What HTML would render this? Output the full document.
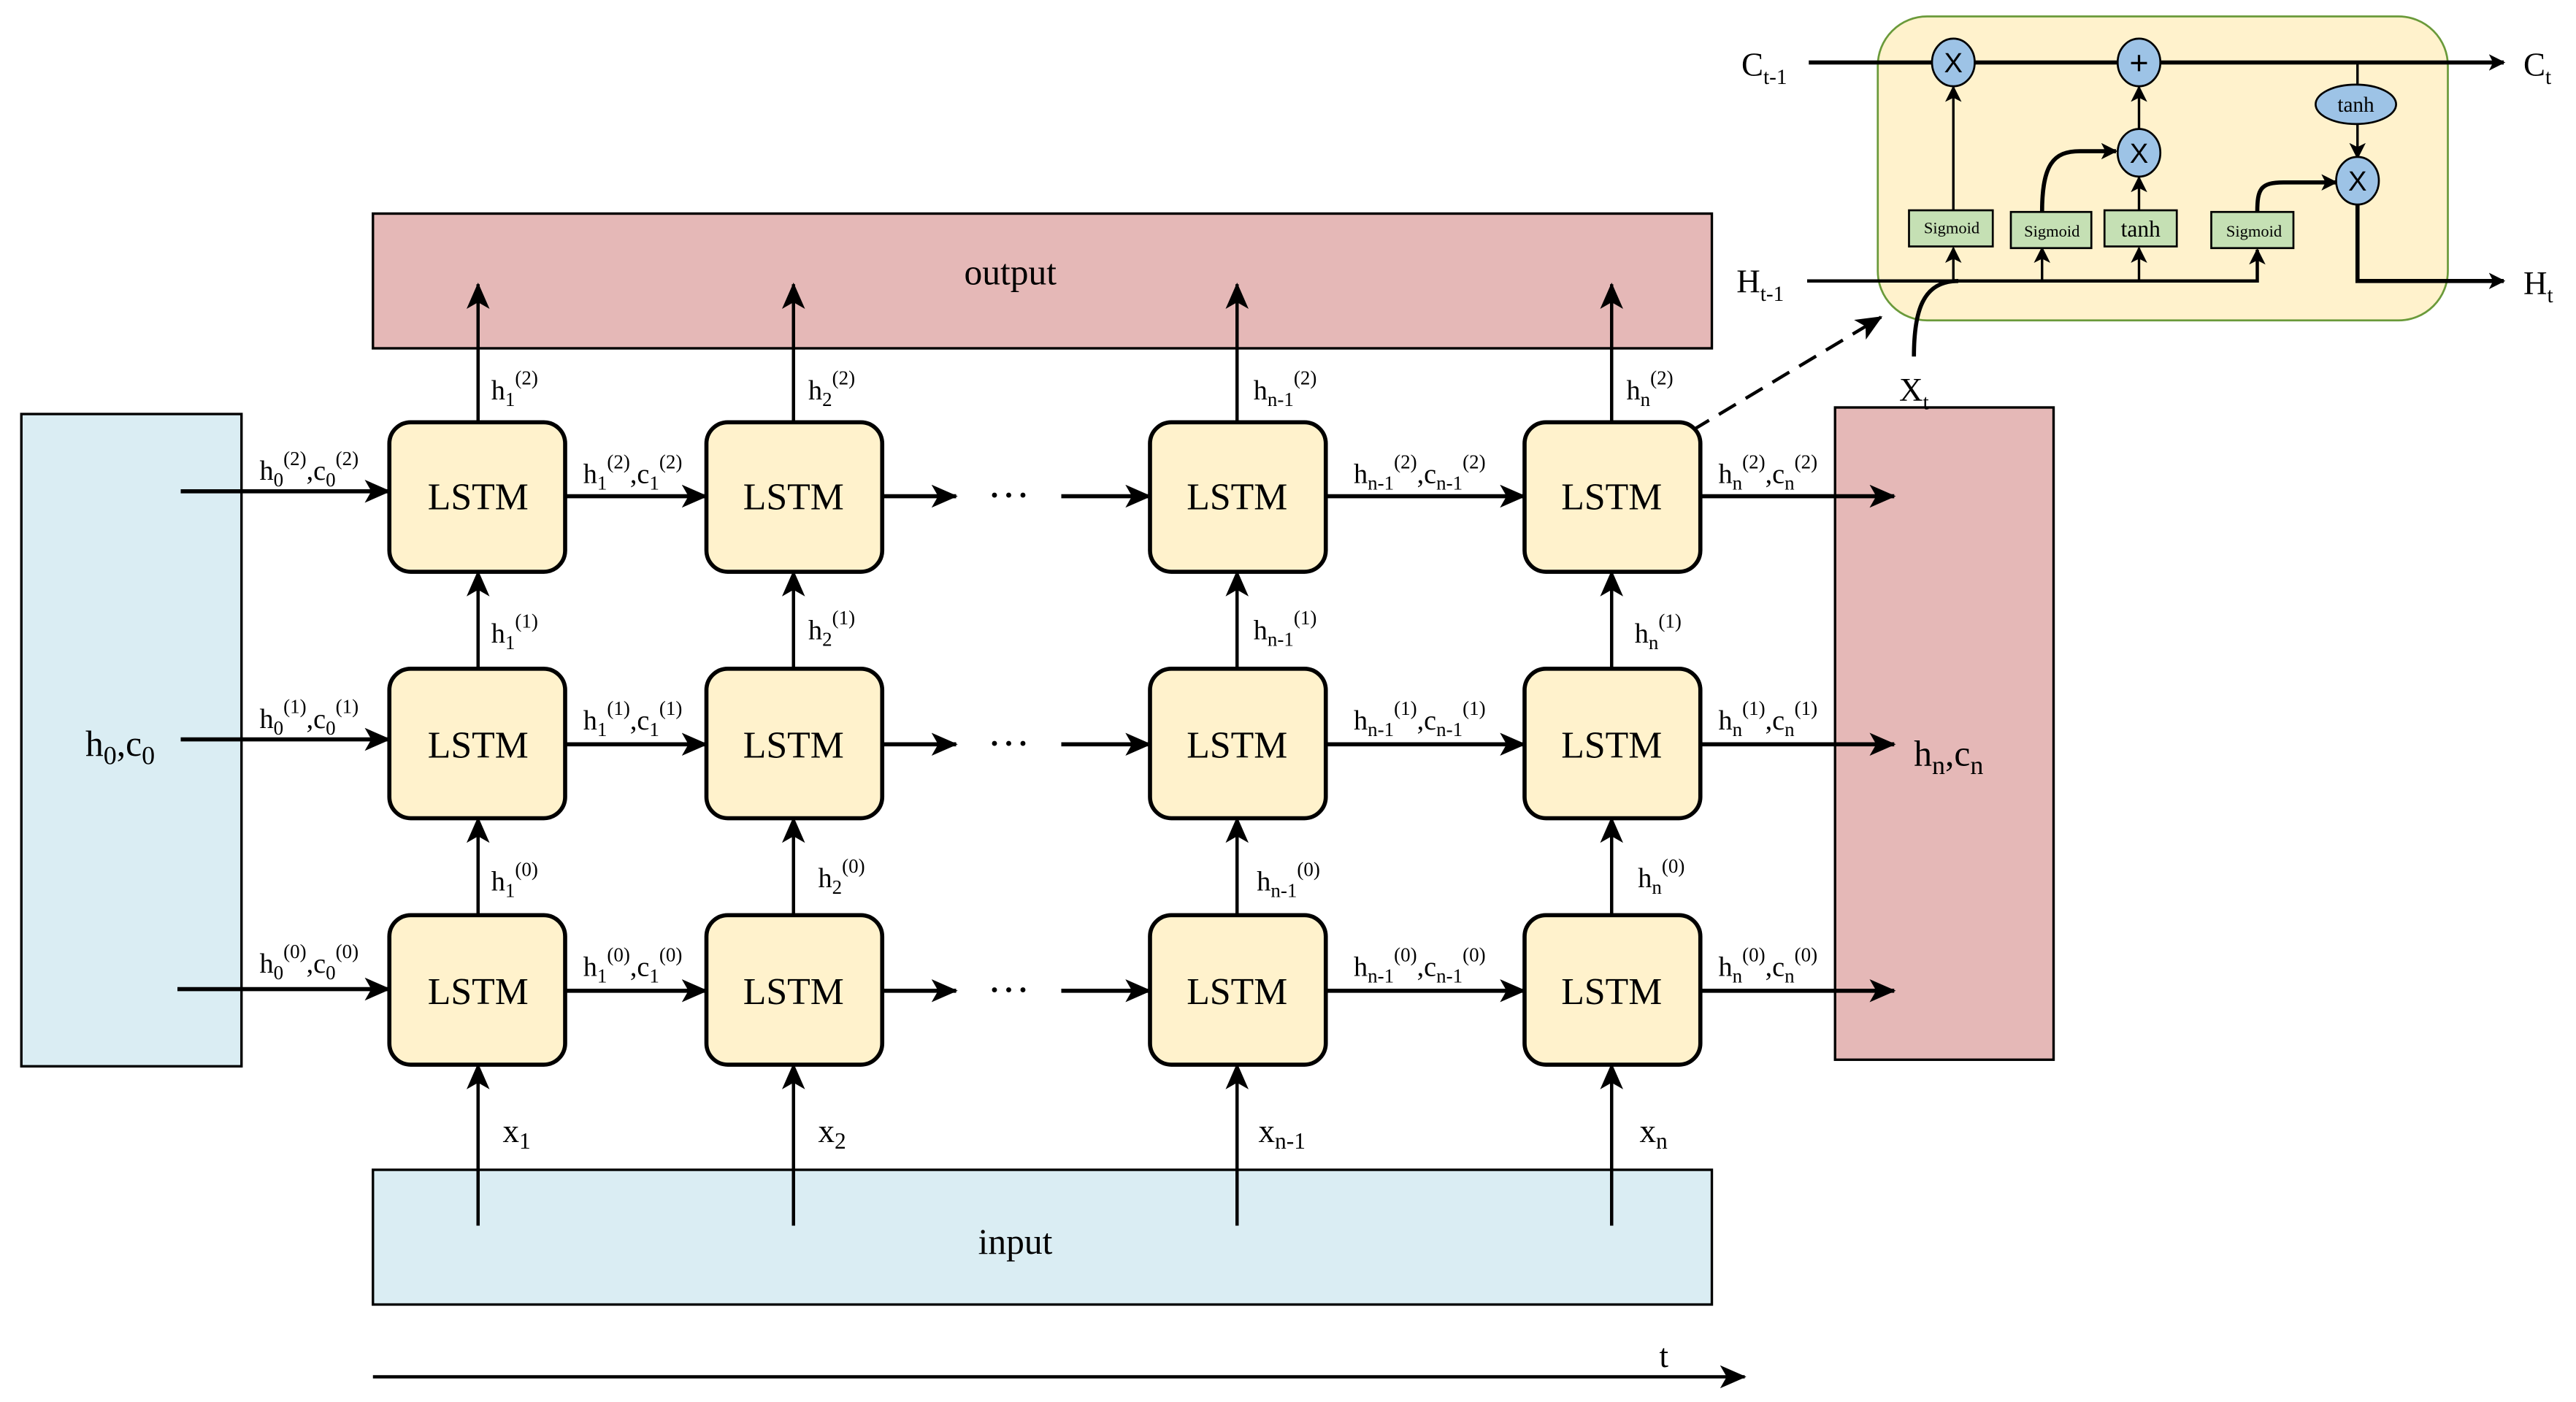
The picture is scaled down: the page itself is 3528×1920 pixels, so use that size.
<!DOCTYPE html>
<html><head><meta charset="utf-8"><style>
html,body{margin:0;padding:0;background:#fff}
svg{display:block}
text{font-family:"Liberation Serif",serif;fill:#000}
</style></head><body>
<svg width="3528" height="1920" viewBox="0 0 1568 853.33" xmlns="http://www.w3.org/2000/svg">
<defs>
<marker id="a" markerUnits="userSpaceOnUse" markerWidth="16" markerHeight="14" refX="15" refY="7" orient="auto"><path d="M0,0 L16,7 L0,14 L4,7 z" fill="#000"/></marker>
<marker id="s" markerUnits="userSpaceOnUse" markerWidth="10" markerHeight="10" refX="9" refY="5" orient="auto"><path d="M0,0 L10,5 L0,10 L2.5,5 z" fill="#000"/></marker>
</defs>
<rect width="1568" height="853.33" fill="#fff"/>
<!-- big boxes -->
<rect x="13" y="252" width="134" height="397" fill="#daedf3" stroke="#000" stroke-width="1.5"/>
<rect x="227" y="130" width="815" height="82" fill="#e5b8b7" stroke="#000" stroke-width="1.5"/>
<rect x="227" y="712" width="815" height="82" fill="#daedf3" stroke="#000" stroke-width="1.5"/>
<rect x="1117" y="248" width="133" height="397" fill="#e5b8b7" stroke="#000" stroke-width="1.5"/>
<text x="615" y="173" font-size="22" text-anchor="middle">output</text>
<text x="618" y="763" font-size="22" text-anchor="middle">input</text>
<text x="52" y="460" font-size="22">h<tspan font-size="16" dy="5">0</tspan><tspan dy="-5">,c</tspan><tspan font-size="16" dy="5">0</tspan></text>
<text x="1165" y="466" font-size="22">h<tspan font-size="16" dy="5">n</tspan><tspan dy="-5">,c</tspan><tspan font-size="16" dy="5">n</tspan></text>

<g stroke="#000" stroke-width="2" fill="none">
<!-- vertical to output -->
<line x1="291" y1="257" x2="291" y2="173" marker-end="url(#a)"/>
<line x1="483" y1="257" x2="483" y2="173" marker-end="url(#a)"/>
<line x1="753" y1="257" x2="753" y2="173" marker-end="url(#a)"/>
<line x1="981" y1="257" x2="981" y2="173" marker-end="url(#a)"/>
<!-- between rows -->
<line x1="291" y1="407" x2="291" y2="348" marker-end="url(#a)"/>
<line x1="483" y1="407" x2="483" y2="348" marker-end="url(#a)"/>
<line x1="753" y1="407" x2="753" y2="348" marker-end="url(#a)"/>
<line x1="981" y1="407" x2="981" y2="348" marker-end="url(#a)"/>
<line x1="291" y1="557" x2="291" y2="498" marker-end="url(#a)"/>
<line x1="483" y1="557" x2="483" y2="498" marker-end="url(#a)"/>
<line x1="753" y1="557" x2="753" y2="498" marker-end="url(#a)"/>
<line x1="981" y1="557" x2="981" y2="498" marker-end="url(#a)"/>
<!-- from input -->
<line x1="291" y1="746" x2="291" y2="648" marker-end="url(#a)"/>
<line x1="483" y1="746" x2="483" y2="648" marker-end="url(#a)"/>
<line x1="753" y1="746" x2="753" y2="648" marker-end="url(#a)"/>
<line x1="981" y1="746" x2="981" y2="648" marker-end="url(#a)"/>
</g>
<g stroke="#000" stroke-width="2.5" fill="none">
<!-- horizontal rows -->
<line x1="110" y1="299" x2="237" y2="299" marker-end="url(#a)"/>
<line x1="110" y1="450" x2="237" y2="450" marker-end="url(#a)"/>
<line x1="108" y1="602" x2="237" y2="602" marker-end="url(#a)"/>
<line x1="344" y1="302" x2="430" y2="302" marker-end="url(#a)"/>
<line x1="344" y1="453" x2="430" y2="453" marker-end="url(#a)"/>
<line x1="344" y1="603" x2="430" y2="603" marker-end="url(#a)"/>
<line x1="537" y1="302" x2="582" y2="302" marker-end="url(#a)"/>
<line x1="537" y1="453" x2="582" y2="453" marker-end="url(#a)"/>
<line x1="537" y1="603" x2="582" y2="603" marker-end="url(#a)"/>
<line x1="646" y1="302" x2="700" y2="302" marker-end="url(#a)"/>
<line x1="646" y1="453" x2="700" y2="453" marker-end="url(#a)"/>
<line x1="646" y1="603" x2="700" y2="603" marker-end="url(#a)"/>
<line x1="807" y1="302" x2="928" y2="302" marker-end="url(#a)"/>
<line x1="807" y1="453" x2="928" y2="453" marker-end="url(#a)"/>
<line x1="807" y1="603" x2="928" y2="603" marker-end="url(#a)"/>
<line x1="1035" y1="302" x2="1153" y2="302" marker-end="url(#a)"/>
<line x1="1035" y1="453" x2="1153" y2="453" marker-end="url(#a)"/>
<line x1="1035" y1="603" x2="1153" y2="603" marker-end="url(#a)"/>
<!-- time axis -->
<line x1="227" y1="838" x2="1062" y2="838" stroke-width="2" marker-end="url(#a)"/>
<!-- dashed -->
<line x1="1030" y1="262" x2="1145" y2="193" stroke-width="2" stroke-dasharray="12,7" marker-end="url(#a)"/>
</g>
<g font-size="26" text-anchor="middle">
<text x="614" y="310">···</text><text x="614" y="461">···</text><text x="614" y="611">···</text>
</g>
<text x="1010" y="832" font-size="20">t</text>

<!-- LSTM boxes -->
<g fill="#fff2cc" stroke="#000" stroke-width="2.5">
<rect x="237" y="257" width="107" height="91" rx="13"/><rect x="430" y="257" width="107" height="91" rx="13"/><rect x="700" y="257" width="107" height="91" rx="13"/><rect x="928" y="257" width="107" height="91" rx="13"/>
<rect x="237" y="407" width="107" height="91" rx="13"/><rect x="430" y="407" width="107" height="91" rx="13"/><rect x="700" y="407" width="107" height="91" rx="13"/><rect x="928" y="407" width="107" height="91" rx="13"/>
<rect x="237" y="557" width="107" height="91" rx="13"/><rect x="430" y="557" width="107" height="91" rx="13"/><rect x="700" y="557" width="107" height="91" rx="13"/><rect x="928" y="557" width="107" height="91" rx="13"/>
</g>
<g font-size="23" text-anchor="middle">
<text x="291" y="310">LSTM</text><text x="483" y="310">LSTM</text><text x="753" y="310">LSTM</text><text x="981" y="310">LSTM</text>
<text x="291" y="461">LSTM</text><text x="483" y="461">LSTM</text><text x="753" y="461">LSTM</text><text x="981" y="461">LSTM</text>
<text x="291" y="611">LSTM</text><text x="483" y="611">LSTM</text><text x="753" y="611">LSTM</text><text x="981" y="611">LSTM</text>
</g>

<!-- horizontal labels -->
<g font-size="17">
<text x="158" y="292">h<tspan font-size="12" dy="4">0</tspan><tspan font-size="12" dy="-13">(2)</tspan><tspan dy="9">,c</tspan><tspan font-size="12" dy="4">0</tspan><tspan font-size="12" dy="-13">(2)</tspan></text>
<text x="158" y="443">h<tspan font-size="12" dy="4">0</tspan><tspan font-size="12" dy="-13">(1)</tspan><tspan dy="9">,c</tspan><tspan font-size="12" dy="4">0</tspan><tspan font-size="12" dy="-13">(1)</tspan></text>
<text x="158" y="592">h<tspan font-size="12" dy="4">0</tspan><tspan font-size="12" dy="-13">(0)</tspan><tspan dy="9">,c</tspan><tspan font-size="12" dy="4">0</tspan><tspan font-size="12" dy="-13">(0)</tspan></text>
<text x="355" y="294">h<tspan font-size="12" dy="4">1</tspan><tspan font-size="12" dy="-13">(2)</tspan><tspan dy="9">,c</tspan><tspan font-size="12" dy="4">1</tspan><tspan font-size="12" dy="-13">(2)</tspan></text>
<text x="355" y="444">h<tspan font-size="12" dy="4">1</tspan><tspan font-size="12" dy="-13">(1)</tspan><tspan dy="9">,c</tspan><tspan font-size="12" dy="4">1</tspan><tspan font-size="12" dy="-13">(1)</tspan></text>
<text x="355" y="594">h<tspan font-size="12" dy="4">1</tspan><tspan font-size="12" dy="-13">(0)</tspan><tspan dy="9">,c</tspan><tspan font-size="12" dy="4">1</tspan><tspan font-size="12" dy="-13">(0)</tspan></text>
<text x="824" y="294">h<tspan font-size="12" dy="4">n-1</tspan><tspan font-size="12" dy="-13">(2)</tspan><tspan dy="9">,c</tspan><tspan font-size="12" dy="4">n-1</tspan><tspan font-size="12" dy="-13">(2)</tspan></text>
<text x="824" y="444">h<tspan font-size="12" dy="4">n-1</tspan><tspan font-size="12" dy="-13">(1)</tspan><tspan dy="9">,c</tspan><tspan font-size="12" dy="4">n-1</tspan><tspan font-size="12" dy="-13">(1)</tspan></text>
<text x="824" y="594">h<tspan font-size="12" dy="4">n-1</tspan><tspan font-size="12" dy="-13">(0)</tspan><tspan dy="9">,c</tspan><tspan font-size="12" dy="4">n-1</tspan><tspan font-size="12" dy="-13">(0)</tspan></text>
<text x="1046" y="294">h<tspan font-size="12" dy="4">n</tspan><tspan font-size="12" dy="-13">(2)</tspan><tspan dy="9">,c</tspan><tspan font-size="12" dy="4">n</tspan><tspan font-size="12" dy="-13">(2)</tspan></text>
<text x="1046" y="444">h<tspan font-size="12" dy="4">n</tspan><tspan font-size="12" dy="-13">(1)</tspan><tspan dy="9">,c</tspan><tspan font-size="12" dy="4">n</tspan><tspan font-size="12" dy="-13">(1)</tspan></text>
<text x="1046" y="594">h<tspan font-size="12" dy="4">n</tspan><tspan font-size="12" dy="-13">(0)</tspan><tspan dy="9">,c</tspan><tspan font-size="12" dy="4">n</tspan><tspan font-size="12" dy="-13">(0)</tspan></text>
<!-- vertical labels -->
<text x="299" y="243">h<tspan font-size="12" dy="4">1</tspan><tspan font-size="12" dy="-13">(2)</tspan></text>
<text x="492" y="243">h<tspan font-size="12" dy="4">2</tspan><tspan font-size="12" dy="-13">(2)</tspan></text>
<text x="763" y="243">h<tspan font-size="12" dy="4">n-1</tspan><tspan font-size="12" dy="-13">(2)</tspan></text>
<text x="990" y="243">h<tspan font-size="12" dy="4">n</tspan><tspan font-size="12" dy="-13">(2)</tspan></text>
<text x="299" y="391">h<tspan font-size="12" dy="4">1</tspan><tspan font-size="12" dy="-13">(1)</tspan></text>
<text x="492" y="389">h<tspan font-size="12" dy="4">2</tspan><tspan font-size="12" dy="-13">(1)</tspan></text>
<text x="763" y="389">h<tspan font-size="12" dy="4">n-1</tspan><tspan font-size="12" dy="-13">(1)</tspan></text>
<text x="995" y="391">h<tspan font-size="12" dy="4">n</tspan><tspan font-size="12" dy="-13">(1)</tspan></text>
<text x="299" y="542">h<tspan font-size="12" dy="4">1</tspan><tspan font-size="12" dy="-13">(0)</tspan></text>
<text x="498" y="540">h<tspan font-size="12" dy="4">2</tspan><tspan font-size="12" dy="-13">(0)</tspan></text>
<text x="765" y="542">h<tspan font-size="12" dy="4">n-1</tspan><tspan font-size="12" dy="-13">(0)</tspan></text>
<text x="997" y="540">h<tspan font-size="12" dy="4">n</tspan><tspan font-size="12" dy="-13">(0)</tspan></text>
</g>
<g font-size="20">
<text x="306" y="695">x<tspan font-size="14" dy="4">1</tspan></text>
<text x="498" y="695">x<tspan font-size="14" dy="4">2</tspan></text>
<text x="766" y="695">x<tspan font-size="14" dy="4">n-1</tspan></text>
<text x="998" y="695">x<tspan font-size="14" dy="4">n</tspan></text>
</g>

<!-- inset LSTM cell -->
<rect x="1143" y="10" width="347" height="185" rx="30" fill="#fff2cc" stroke="#6a9a3a" stroke-width="1.2"/>
<g stroke="#000" stroke-width="2.5" fill="none">
<line x1="1101" y1="38" x2="1524" y2="38" marker-end="url(#s)"/>
<polyline points="1100,171 1374,171 1374,152" stroke-width="2" marker-end="url(#s)"/>
<polyline points="1435,124 1435,171 1524,171" marker-end="url(#s)"/>
<path d="M1165,217 C1165,190 1170,171 1192,171"/>
</g>
<g stroke="#000" stroke-width="1.5" fill="none">
<line x1="1189" y1="171" x2="1189" y2="151" marker-end="url(#s)"/>
<line x1="1243" y1="171" x2="1243" y2="151" marker-end="url(#s)"/>
<line x1="1302" y1="171" x2="1302" y2="151" marker-end="url(#s)"/>
<line x1="1189" y1="128" x2="1189" y2="53" marker-end="url(#s)"/>
<line x1="1302" y1="128" x2="1302" y2="108" marker-end="url(#s)"/>
<line x1="1302" y1="79" x2="1302" y2="53" marker-end="url(#s)"/>
<line x1="1435" y1="38" x2="1435" y2="51"/>
<line x1="1435" y1="76" x2="1435" y2="96" marker-end="url(#s)"/>
<path d="M1243,129 C1243,100 1250,92 1266,92 L1288,92" stroke-width="2.5" marker-end="url(#s)"/>
<path d="M1374,129 C1374,115 1376,111 1390,111 L1422,111" stroke-width="2.5" marker-end="url(#s)"/>
</g>
<g fill="#9dc3e6" stroke="#000" stroke-width="1.2">
<ellipse cx="1189" cy="38" rx="13" ry="14.5"/>
<ellipse cx="1302" cy="38" rx="13" ry="14.5"/>
<ellipse cx="1302" cy="93" rx="13" ry="14.5"/>
<ellipse cx="1435" cy="110" rx="13" ry="14.5"/>
<ellipse cx="1434" cy="63.5" rx="24.5" ry="12"/>
</g>
<g font-size="17" text-anchor="middle" font-family="Liberation Sans">
<text x="1189" y="44" style="font-family:'Liberation Sans',sans-serif">X</text>
<text x="1302" y="45" style="font-family:'Liberation Sans',sans-serif" font-size="20">+</text>
<text x="1302" y="99" style="font-family:'Liberation Sans',sans-serif">X</text>
<text x="1435" y="116" style="font-family:'Liberation Sans',sans-serif">X</text>
<text x="1434" y="68" font-size="13">tanh</text>
</g>
<g fill="#c5e0b4" stroke="#000" stroke-width="1.2">
<rect x="1162" y="128" width="51" height="22"/>
<rect x="1224" y="129" width="49" height="22"/>
<rect x="1281" y="128" width="44" height="22"/>
<rect x="1346" y="129" width="50" height="22"/>
</g>
<g text-anchor="middle" font-size="10">
<text x="1188" y="142">Sigmoid</text>
<text x="1249" y="144">Sigmoid</text>
<text x="1303" y="144" font-size="14">tanh</text>
<text x="1372" y="144">Sigmoid</text>
</g>
<g font-size="20">
<text x="1060" y="46">C<tspan font-size="13" dy="5">t-1</tspan></text>
<text x="1536" y="46">C<tspan font-size="13" dy="5">t</tspan></text>
<text x="1057" y="178">H<tspan font-size="13" dy="5">t-1</tspan></text>
<text x="1536" y="179">H<tspan font-size="13" dy="5">t</tspan></text>
<text x="1156" y="244">X<tspan font-size="13" dy="5">t</tspan></text>
</g>
</svg>
</body></html>
